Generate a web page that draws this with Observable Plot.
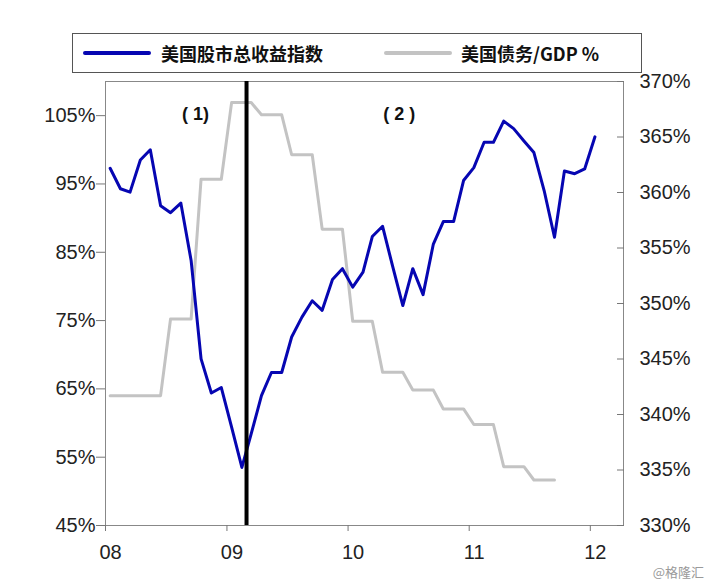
<!DOCTYPE html>
<html>
<head>
<meta charset="utf-8">
<script src="https://cdn.jsdelivr.net/npm/d3@7"></script>
<script src="https://cdn.jsdelivr.net/npm/@observablehq/plot@0.6"></script>
<style>
  body { margin: 0; background: #fff; }
  #wrap { position: relative; width: 712px; height: 585px; overflow: hidden; }
  #legend { position: absolute; left: 72px; top: 33px; width: 570px; height: 40px; box-sizing: border-box;
            border: 1px solid #555; background: #fff;
            font-family: "Noto Sans CJK SC", "Noto Sans", sans-serif; font-size: 18px; font-weight: bold; color: #111; }
  .sw { position: absolute; top: 17px; height: 4px; border-radius: 2px; }
  .lt { position: absolute; top: 0; line-height: 38px; white-space: nowrap; }
  #wm { position: absolute; right: 8px; top: 562px; font-family: "Noto Sans CJK SC", sans-serif; font-size: 13px; color: #9a9a9a; }
</style>
</head>
<body>
<div id="wrap">
  <div id="chart"></div>
  <div id="legend"></div>
  <div id="wm">@格隆汇</div>
</div>
<script>
// ---- data ----
const seriesNames = ["美国股市总收益指数", "美国债务/GDP %"];
const seriesColors = ["#0606b2", "#c3c3c3"];
// monthly, Jan 2008 .. Jan 2012 (left axis, %)
const stockIndex = [97.3, 94.3, 93.8, 98.5, 100.0, 91.8, 90.8, 92.2, 83.8, 69.4, 64.4, 65.2,
                    59.4, 53.5, 58.4, 64.0, 67.4, 67.4, 72.6, 75.5, 77.9, 76.5, 81.0, 82.6,
                    79.9, 82.1, 87.3, 88.8, 83.0, 77.2, 82.6, 78.8, 86.2, 89.5, 89.5, 95.5,
                    97.4, 101.1, 101.1, 104.2, 103.1, 101.3, 99.6, 94.0, 87.2, 96.9, 96.5, 97.2,
                    101.9];
// monthly, Jan 2008 .. Sep 2011 (right axis, %)
const debtToGdp = [341.7, 341.7, 341.7, 341.7, 341.7, 341.7, 348.6, 348.6, 348.6, 361.2, 361.2, 361.2,
                   368.1, 368.1, 368.1, 367.0, 367.0, 367.0, 363.4, 363.4, 363.4, 356.7, 356.7, 356.7,
                   348.4, 348.4, 348.4, 343.8, 343.8, 343.8, 342.2, 342.2, 342.2, 340.5, 340.5, 340.5,
                   339.1, 339.1, 339.1, 335.3, 335.3, 335.3, 334.1, 334.1, 334.1];
const leftTicks = [45, 55, 65, 75, 85, 95, 105];
const rightTicks = [330, 335, 340, 345, 350, 355, 360, 365, 370];
const yearTicks = ["2008-01-01", "2009-01-01", "2010-01-01", "2011-01-01", "2012-01-01"];
const eventDate = "2009-03-01";
const annLabels = ["( 1)", "( 2 )"];
const annDates = ["2008-09-28", "2010-06-04"];
const annY = [105.2, 105.2];

// ---- helpers ----
const L0 = 45, L1 = 110, R0 = 330, R1 = 370;
const toLeft = v => L0 + (v - R0) * (L1 - L0) / (R1 - R0);
const fromLeft = v => R0 + (v - L0) * (R1 - R0) / (L1 - L0);
const monthDate = i => d3.utcDay.offset(d3.utcMonth.offset(new Date(Date.UTC(2008, 0, 1)), i), 14);

const stock = stockIndex.map((v, i) => ({date: monthDate(i), v}));
const debt = debtToGdp.map((v, i) => ({date: monthDate(i), v: toLeft(v)}));
const anns = annLabels.map((t, i) => ({label: t, date: new Date(annDates[i]), y: annY[i]}));
const years = yearTicks.map(d => new Date(d));

const chart = Plot.plot({
  width: 712, height: 585,
  marginTop: 81, marginBottom: 60, marginLeft: 105, marginRight: 89,
  x: {type: "utc", domain: [new Date("2008-01-01"), new Date("2012-04-10")]},
  y: {domain: [L0, L1]},
  style: {fontFamily: "'Liberation Sans', Arial, sans-serif", fontSize: "20px", color: "#222", background: "white"},
  marks: [
    Plot.frame({stroke: "#888"}),
    // left axis
    Plot.axisY({ticks: leftTicks, tickSize: 9, tickFormat: () => "", stroke: "#777", label: null}),
    Plot.axisY({ticks: leftTicks, tickSize: 0, tickPadding: 10, tickFormat: d => d + "%", label: null, fill: "#222"}),
    // right axis
    Plot.axisY({anchor: "right", ticks: rightTicks.map(toLeft), tickSize: -7, tickFormat: () => "", stroke: "#777", label: null}),
    Plot.axisY({anchor: "right", ticks: rightTicks.map(toLeft), tickSize: 0, tickPadding: 16,
                tickFormat: d => Math.round(fromLeft(d)) + "%", label: null, fill: "#222"}),
    // bottom axis
    Plot.axisX({ticks: years, tickSize: 6, tickFormat: () => "", stroke: "#777", label: null}),
    Plot.axisX({ticks: years, tickSize: 0, tickPadding: 19, dx: 5, tickFormat: d3.utcFormat("%y"), label: null, fill: "#222"}),
    // series
    Plot.line(debt, {x: "date", y: "v", stroke: seriesColors[1], strokeWidth: 3}),
    Plot.line(stock, {x: "date", y: "v", stroke: seriesColors[0], strokeWidth: 3}),
    Plot.ruleX([new Date(eventDate)], {stroke: "black", strokeWidth: 4}),
    Plot.text(anns, {x: "date", y: "y", text: "label", fontWeight: "bold", fontSize: 18, fill: "#111"})
  ]
});
document.getElementById("chart").appendChild(chart);

// legend
const legend = document.getElementById("legend");
const legendPos = [{sw: 10, tx: 88}, {sw: 311, tx: 388}];
seriesNames.forEach((name, i) => {
  const s = document.createElement("div");
  s.className = "sw";
  s.style.left = legendPos[i].sw + "px";
  s.style.width = "68px";
  s.style.background = seriesColors[i];
  legend.appendChild(s);
  const t = document.createElement("div");
  t.className = "lt";
  t.style.left = legendPos[i].tx + "px";
  t.textContent = name;
  legend.appendChild(t);
});
</script>
</body>
</html>
